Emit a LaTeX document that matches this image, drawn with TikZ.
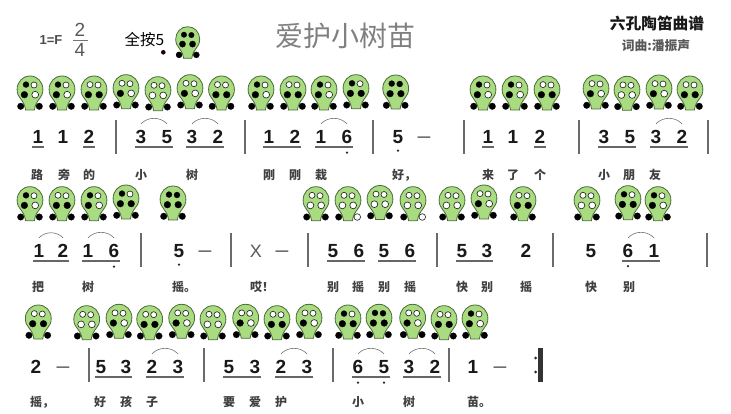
\documentclass[tikz,border=0pt]{standalone}
\usepackage{fontspec}
\usetikzlibrary{positioning}
\setmainfont{Liberation Sans}
\newfontfamily\cjk{Noto Sans CJK SC}
\definecolor{bodygreen}{HTML}{A9DB80}
\definecolor{bodyline}{HTML}{4A6A38}
\definecolor{barcolor}{HTML}{6A6A6A}
\tikzset{
	body/.style={draw=bodyline, fill=bodygreen, line width=0.8pt},
	h0/.style={draw=black!85, fill=white, line width=0.65pt},
	h1/.style={draw=black, fill=black, line width=0.2pt},
	back0/.style={h1},
	back1/.style={h0},
	note/.style={inner sep=0pt, text height=13pt, text depth=0pt, text=black!90, font=\fontsize{19}{19}\selectfont\bfseries},
	thinnote/.style={note, text=black!65, font=\fontsize{18}{18}\selectfont},
	hold/.style={note, text=black!60, font=\fontsize{23}{23}\selectfont},
	lyric/.style={inner sep=0pt, text=black!75, font=\cjk\fontsize{12}{12}\selectfont\bfseries},
	barline/.style={inner sep=0pt, fill=barcolor, minimum width=1.5pt, minimum height=34pt},
	beam/.style={draw=black!60, line width=1.5pt},
	tie/.style={draw=black!55, line width=0.6pt, bend left=46},
	lowdot/.style={circle, inner sep=0pt, minimum size=2.4pt, fill=black!85},
}
% #1 options, #2 x, #3 top, #4 pattern: four front holes and the right back hole
\newcommand\ocarina[4][]{\ocarinaparts{#1}{#2}{#3}#4}
\newcommand\ocarinaparts[8]{
	\begin{scope}[shift={(#2,#3)},#1]
		\path[body] (0,0) .. controls (7.5,0) and (12.9,6) .. (12.9,13.5) .. controls (12.9,23) and (6,22.5) .. (4.4,34) -- (-4.4,34) .. controls (-6,22.5) and (-12.9,23) .. (-12.9,13.5) .. controls (-12.9,6) and (-7.5,0) .. (0,0) -- cycle;
		\path[h#4] (-4,8.6) circle[radius=3];
		\path[h#5] (4,9) circle[radius=3];
		\path[h#6] (-5.6,18.7) circle[radius=3.4];
		\path[h#7] (5.2,18.7) circle[radius=3.4];
		\path[h1] (-9.3,30.3) circle[radius=3.3];
		\path[back#8] (9.3,30.3) circle[radius=3.3];
	\end{scope}
}
\newcommand\beam[2]{\draw[beam] ([shift={(-6pt,-3.5pt)}]#1.south) -- ([shift={(6pt,-3.5pt)}]#2.south);}
\newcommand\slur[2]{\draw[tie] ([yshift=6.5pt]#1.north) to ([yshift=6.5pt]#2.north);}
\begin{document}
\begin{tikzpicture}[x=1pt,y=-1pt]
	\useasboundingbox (0,0) rectangle (731,414);

	% heading
	\node[font=\fontsize{13}{13}\selectfont\bfseries, text=black!70, inner sep=0pt] (key) at (51,40) {1=F};
	\node[font=\fontsize{19}{19}\selectfont, text=black!65, inner sep=0pt] (meterup) at (80,30) {2};
	\node[font=\fontsize{19}{19}\selectfont, text=black!65, inner sep=0pt] (meterdown) at (80,50) {4};
	\node[inner sep=0pt, fill=black!55, minimum width=15.5pt, minimum height=0.8pt] (meterline) at (80.3,40.7) {};
	\node[font=\cjk\fontsize{15.5}{15.5}\selectfont, inner sep=0pt] (allshut) at (144.5,40) {全按5};
	\node[lowdot, minimum size=4.6pt, fill=black!85!red] (allshutdot) at (163.3,52.3) {};
	\ocarina[scale=.93]{187.7}{26.7}{11110}
	\node[font=\cjk\fontsize{28}{28}\selectfont, text=black!50, inner sep=0pt] (title) at (345,36) {爱护小树苗};
	\node[font=\cjk\fontsize{15.7}{15.7}\selectfont\bfseries, text=black!90, inner sep=0pt] (kind) at (657,23) {六孔陶笛曲谱};
	\node[font=\cjk\fontsize{12.8}{12.8}\selectfont\bfseries, text=black!65, inner sep=0pt] (author) at (656,46) {词曲:潘振声};

	% first line
	\ocarina{30}{76}{10100}
	\ocarina{62}{76}{10100}
	\ocarina{94}{76}{00110}
	\ocarina{126}{74.7}{00100}
	\ocarina{158}{76.7}{00000}
	\ocarina{190}{74.7}{00100}
	\ocarina{221.5}{76}{00110}
	\ocarina{261}{76}{10100}
	\ocarina{293}{76}{00110}
	\ocarina{324}{76}{10100}
	\ocarina{356}{74.7}{10110}
	\ocarina{395.7}{75}{11110}
	\ocarina{483}{76}{10100}
	\ocarina{515}{76}{10100}
	\ocarina{547}{76}{00110}
	\ocarina{596}{75}{00100}
	\ocarina{627}{76.3}{00000}
	\ocarina{659}{75}{00100}
	\ocarina{690}{76}{00110}

	\node[note] (n11) at (38,137) {1};
	\node[note] (n12) at (63,137) {1};
	\node[note] (n13) at (89,137) {2};
	\node[barline] (b11) at (116,137) {};
	\node[note] (n14) at (141,137) {3};
	\node[note] (n15) at (167,137) {5};
	\node[note] (n16) at (192,137) {3};
	\node[note] (n17) at (218,137) {2};
	\node[barline] (b12) at (245,137) {};
	\node[note] (n18) at (269,137) {1};
	\node[note] (n19) at (295,137) {2};
	\node[note] (n110) at (321,137) {1};
	\node[note] (n111) at (347,137) {6};
	\node[barline] (b13) at (373,137) {};
	\node[note] (n112) at (398,137) {5};
	\node[hold] (n113) at (424,137) {–};
	\node[barline] (b14) at (464,137) {};
	\node[note] (n114) at (488,137) {1};
	\node[note] (n115) at (513,137) {1};
	\node[note] (n116) at (540,137) {2};
	\node[barline] (b15) at (579,137) {};
	\node[note] (n117) at (604,137) {3};
	\node[note] (n118) at (630,137) {5};
	\node[note] (n119) at (656,137) {3};
	\node[note] (n120) at (682,137) {2};
	\node[barline] (b16) at (708,137) {};

	\beam{n11}{n11}
	\beam{n13}{n13}
	\beam{n14}{n15}
	\beam{n16}{n17}
	\beam{n18}{n19}
	\beam{n110}{n111}
	\beam{n114}{n114}
	\beam{n116}{n116}
	\beam{n117}{n118}
	\beam{n119}{n120}
	\slur{n14}{n15}
	\slur{n16}{n17}
	\slur{n110}{n111}
	\slur{n119}{n120}
	\node[lowdot, below=7.5pt of n111] (d11) {};
	\node[lowdot, below=5.5pt of n112] (d12) {};

	\node[lyric] (w11) at (37,175) {路};
	\node[lyric] (w12) at (64,175) {旁};
	\node[lyric] (w13) at (89,175) {的};
	\node[lyric] (w14) at (141,175) {小};
	\node[lyric] (w15) at (192,175) {树};
	\node[lyric] (w16) at (269,175) {刚};
	\node[lyric] (w17) at (295,175) {刚};
	\node[lyric] (w18) at (321,175) {栽};
	\node[lyric, anchor=west] (w19) at (392,175) {好，};
	\node[lyric] (w110) at (488,175) {来};
	\node[lyric] (w111) at (513,175) {了};
	\node[lyric] (w112) at (540,175) {个};
	\node[lyric] (w113) at (604,175) {小};
	\node[lyric] (w114) at (629,175) {朋};
	\node[lyric] (w115) at (655,175) {友};

	% second line
	\ocarina{30}{186.7}{10100}
	\ocarina{62}{186.7}{00110}
	\ocarina{94}{186.7}{10100}
	\ocarina{126}{185}{10110}
	\ocarina{173}{186}{11110}
	\ocarina{316}{186.7}{00000}
	\ocarina{348}{186.7}{00001}
	\ocarina{380}{185.5}{00000}
	\ocarina{413}{186.7}{00001}
	\ocarina{452}{186.7}{00000}
	\ocarina{484}{185}{00100}
	\ocarina{523}{186.7}{00110}
	\ocarina{587}{186.7}{00000}
	\ocarina{628}{185.7}{10110}
	\ocarina{658}{186.7}{10100}

	\node[note] (n21) at (39,251) {1};
	\node[note] (n22) at (63,251) {2};
	\node[note] (n23) at (88,251) {1};
	\node[note] (n24) at (114,251) {6};
	\node[barline] (b21) at (141,250) {};
	\node[note] (n25) at (179,251) {5};
	\node[hold] (n26) at (205,251) {–};
	\node[barline] (b22) at (231,250) {};
	\node[thinnote] (n27) at (256,251) {X};
	\node[hold] (n28) at (282,251) {–};
	\node[barline] (b23) at (308,250) {};
	\node[note] (n29) at (333,251) {5};
	\node[note] (n210) at (359,251) {6};
	\node[note] (n211) at (384,251) {5};
	\node[note] (n212) at (410,251) {6};
	\node[barline] (b24) at (437,250) {};
	\node[note] (n213) at (462,251) {5};
	\node[note] (n214) at (487,251) {3};
	\node[note] (n215) at (526,251) {2};
	\node[barline] (b25) at (553,250) {};
	\node[note] (n216) at (591,251) {5};
	\node[note] (n217) at (628,251) {6};
	\node[note] (n218) at (654,251) {1};
	\node[barline] (b26) at (707,250) {};

	\beam{n21}{n22}
	\beam{n23}{n24}
	\beam{n29}{n210}
	\beam{n211}{n212}
	\beam{n213}{n214}
	\beam{n217}{n218}
	\slur{n21}{n22}
	\slur{n23}{n24}
	\slur{n217}{n218}
	\node[lowdot, below=7.5pt of n24] (d21) {};
	\node[lowdot, below=5.5pt of n25] (d22) {};
	\node[lowdot, below=7pt of n217] (d23) {};

	\node[lyric] (w21) at (38,287) {把};
	\node[lyric] (w22) at (88,287) {树};
	\node[lyric, anchor=west] (w23) at (172,287) {摇。};
	\node[lyric, anchor=west] (w24) at (250,287) {哎！};
	\node[lyric] (w25) at (333,287) {别};
	\node[lyric] (w26) at (358,287) {摇};
	\node[lyric] (w27) at (384,287) {别};
	\node[lyric] (w28) at (410,287) {摇};
	\node[lyric] (w29) at (462,287) {快};
	\node[lyric] (w210) at (487,287) {别};
	\node[lyric] (w211) at (526,287) {摇};
	\node[lyric] (w212) at (591,287) {快};
	\node[lyric] (w213) at (629,287) {别};

	% third line
	\ocarina{38.3}{305}{00110}
	\ocarina{86.7}{305.7}{00000}
	\ocarina{119}{304.3}{00100}
	\ocarina{149.7}{305.7}{00110}
	\ocarina{181.7}{304.3}{00100}
	\ocarina{213}{305.7}{00000}
	\ocarina{245.7}{304.3}{00100}
	\ocarina{277}{305.7}{00110}
	\ocarina{309}{304.3}{00100}
	\ocarina{348}{305}{10110}
	\ocarina{379}{304.3}{11110}
	\ocarina{412.7}{304.3}{00100}
	\ocarina{444}{305.7}{00110}
	\ocarina{475}{305}{10100}

	\node[note] (n31) at (36,367) {2};
	\node[hold] (n32) at (63,367) {–};
	\node[barline] (b31) at (89,365) {};
	\node[note] (n33) at (101,367) {5};
	\node[note] (n34) at (126,367) {3};
	\node[note] (n35) at (152,367) {2};
	\node[note] (n36) at (178,367) {3};
	\node[barline] (b32) at (204,365) {};
	\node[note] (n37) at (229,367) {5};
	\node[note] (n38) at (255,367) {3};
	\node[note] (n39) at (281,367) {2};
	\node[note] (n310) at (307,367) {3};
	\node[barline] (b33) at (333,365) {};
	\node[note] (n311) at (358,367) {6};
	\node[note] (n312) at (384,367) {5};
	\node[note] (n313) at (409,367) {3};
	\node[note] (n314) at (435,367) {2};
	\node[barline] (b34) at (449,365) {};
	\node[note] (n315) at (473,367) {1};
	\node[hold] (n316) at (500,367) {–};
	\node[lowdot, minimum size=3pt] (r1) at (535.7,358) {};
	\node[lowdot, minimum size=3pt] (r2) at (535.7,372) {};
	\node[barline, minimum width=4.6pt, fill=black!80] (b35) at (540.6,365) {};

	\beam{n33}{n34}
	\beam{n35}{n36}
	\beam{n37}{n38}
	\beam{n39}{n310}
	\beam{n311}{n312}
	\beam{n313}{n314}
	\slur{n35}{n36}
	\slur{n39}{n310}
	\slur{n311}{n312}
	\slur{n313}{n314}
	\node[lowdot, below=7.5pt of n311] (d31) {};
	\node[lowdot, below=7.5pt of n312] (d32) {};

	\node[lyric, anchor=west] (w31) at (30,402) {摇，};
	\node[lyric] (w32) at (100,402) {好};
	\node[lyric] (w33) at (126,402) {孩};
	\node[lyric] (w34) at (152,402) {子};
	\node[lyric] (w35) at (229,402) {要};
	\node[lyric] (w36) at (255,402) {爱};
	\node[lyric] (w37) at (281,402) {护};
	\node[lyric] (w38) at (358,402) {小};
	\node[lyric] (w39) at (409,402) {树};
	\node[lyric, anchor=west] (w310) at (467,402) {苗。};
\end{tikzpicture}
\end{document}
